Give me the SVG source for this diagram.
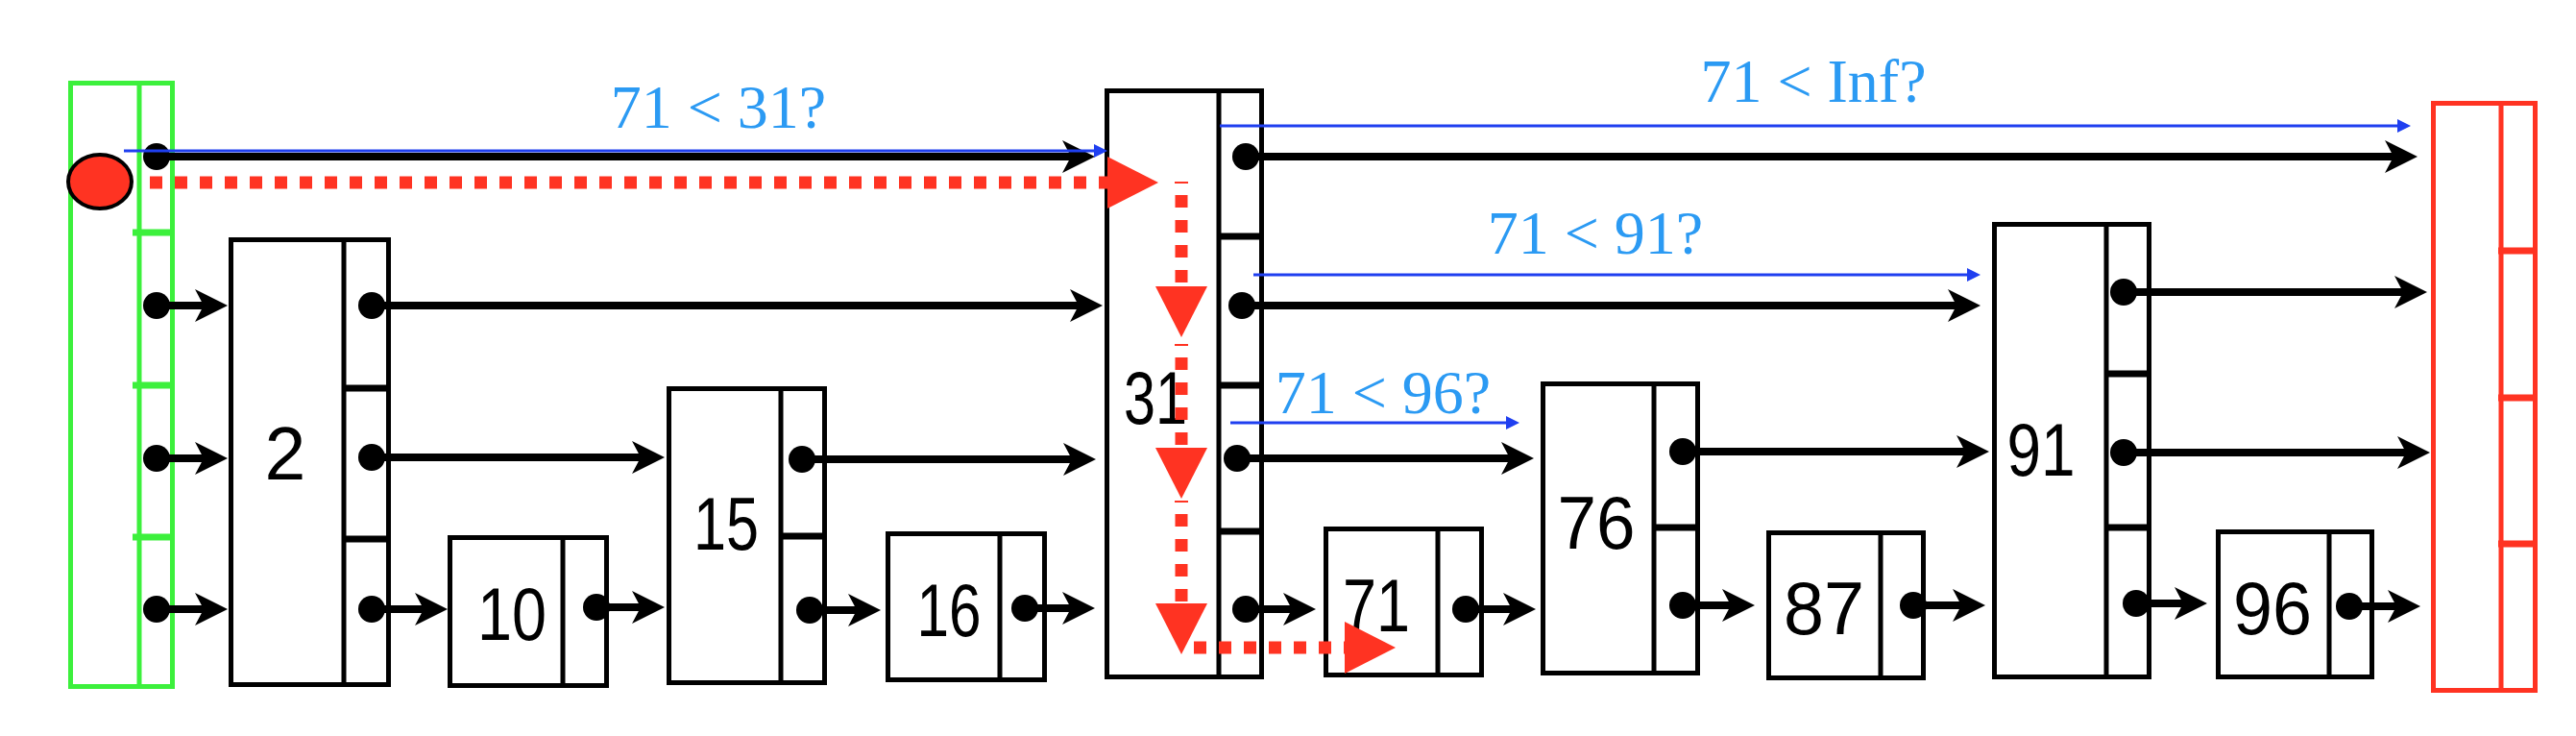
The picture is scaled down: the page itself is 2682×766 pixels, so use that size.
<svg xmlns="http://www.w3.org/2000/svg" width="2682" height="766" viewBox="0 0 2682 766">
<defs>
<style>
.bg{fill:#fff}
.node rect{fill:#fff;stroke:#000;stroke-width:5}
.node line{stroke:#000;stroke-width:5}
.node line.h{stroke-width:7}
.num{font-family:"Liberation Sans",Arial,sans-serif;font-size:77px;fill:#000;text-anchor:middle}
.lbl{font-family:"Liberation Serif","Times New Roman",serif;font-size:64px;fill:#2b9af3;text-anchor:middle}
.head rect{fill:#fff;stroke:#3cf03c;stroke-width:5}
.head line{stroke:#3cf03c;stroke-width:5}
.head line.h{stroke-width:7}
.tail rect{fill:#fff;stroke:#ff3322;stroke-width:5}
.tail line{stroke:#ff3322;stroke-width:5}
.tail line.h{stroke-width:7}
.ptr{stroke:#000;stroke-width:8;fill:none;marker-start:url(#dot);marker-end:url(#ah)}
.cmp{stroke:#1f3ff0;stroke-width:3;fill:none;marker-end:url(#bh)}
.walk{stroke:#ff3322;stroke-width:13;stroke-dasharray:13 13;stroke-dashoffset:13;fill:none;marker-end:url(#rh)}
.tick{stroke:#ff3322;stroke-width:2}
</style>
<marker id="ah" markerUnits="userSpaceOnUse" markerWidth="70" markerHeight="70" viewBox="-35 -35 70 70" refX="0" refY="0" orient="auto" overflow="visible">
<path d="M22,0 L-12,-17 L-3,0 L-12,17 Z" fill="#000"/>
</marker>
<marker id="dot" markerUnits="userSpaceOnUse" markerWidth="40" markerHeight="40" viewBox="-20 -20 40 40" refX="0" refY="0" overflow="visible">
<circle cx="0" cy="0" r="14" fill="#000"/>
</marker>
<marker id="bh" markerUnits="userSpaceOnUse" markerWidth="30" markerHeight="30" viewBox="-15 -15 30 30" refX="0" refY="0" orient="auto" overflow="visible">
<path d="M0,-7 L14,0 L0,7 Z" fill="#1f3ff0"/>
</marker>
<marker id="rh" markerUnits="userSpaceOnUse" markerWidth="120" markerHeight="120" viewBox="-60 -60 120 120" refX="0" refY="0" orient="auto" overflow="visible">
<path d="M0,-27 L53,0 L0,27 Z" fill="#ff3322"/>
</marker>
</defs>
<rect class="bg" x="0" y="0" width="2682" height="766"/>

<g id="head" class="head">
<rect x="73.5" y="86.5" width="106" height="628"/>
<line x1="145" y1="86.5" x2="145" y2="714.5"/>
<line class="h" x1="138" y1="242" x2="182" y2="242"/>
<line class="h" x1="138" y1="401" x2="182" y2="401"/>
<line class="h" x1="138" y1="559" x2="182" y2="559"/>
</g>

<g id="node-2" class="node">
<rect x="240.5" y="249.5" width="164" height="463"/>
<line x1="358" y1="249.5" x2="358" y2="712.5"/>
<line class="h" x1="356" y1="404" x2="407" y2="404"/>
<line class="h" x1="356" y1="561" x2="407" y2="561"/>
<text class="num" x="297" y="499">2</text>
</g>

<g id="node-10" class="node">
<rect x="468.5" y="559.5" width="163" height="154"/>
<line x1="586" y1="559.5" x2="586" y2="713.5"/>
<text class="num" x="533" y="666" textLength="72" lengthAdjust="spacingAndGlyphs">10</text>
</g>

<g id="node-15" class="node">
<rect x="696.5" y="404.5" width="162" height="306"/>
<line x1="813" y1="404.5" x2="813" y2="710.5"/>
<line class="h" x1="811" y1="558" x2="861" y2="558"/>
<text class="num" x="756" y="572" textLength="68" lengthAdjust="spacingAndGlyphs">15</text>
</g>

<g id="node-16" class="node">
<rect x="924.5" y="555.5" width="163" height="152"/>
<line x1="1041" y1="555.5" x2="1041" y2="707.5"/>
<text class="num" x="988" y="662" textLength="67" lengthAdjust="spacingAndGlyphs">16</text>
</g>

<g id="node-31" class="node">
<rect x="1152.5" y="94.5" width="161" height="610"/>
<line x1="1269" y1="94.5" x2="1269" y2="704.5"/>
<line class="h" x1="1267" y1="246" x2="1316" y2="246"/>
<line class="h" x1="1267" y1="401" x2="1316" y2="401"/>
<line class="h" x1="1267" y1="553" x2="1316" y2="553"/>
<text class="num" x="1203" y="441" textLength="66" lengthAdjust="spacingAndGlyphs">31</text>
</g>

<g id="node-71" class="node">
<rect x="1380.5" y="550.5" width="162" height="152"/>
<line x1="1497" y1="550.5" x2="1497" y2="702.5"/>
<text class="num" x="1433" y="657" textLength="70" lengthAdjust="spacingAndGlyphs">71</text>
</g>

<g id="node-76" class="node">
<rect x="1606.5" y="399.5" width="161" height="301"/>
<line x1="1722" y1="399.5" x2="1722" y2="700.5"/>
<line class="h" x1="1720" y1="549" x2="1770" y2="549"/>
<text class="num" x="1662" y="571" textLength="81" lengthAdjust="spacingAndGlyphs">76</text>
</g>

<g id="node-87" class="node">
<rect x="1841.5" y="554.5" width="161" height="151"/>
<line x1="1958" y1="554.5" x2="1958" y2="705.5"/>
<text class="num" x="1899" y="660" textLength="84" lengthAdjust="spacingAndGlyphs">87</text>
</g>

<g id="node-91" class="node">
<rect x="2076.5" y="233.5" width="161" height="471"/>
<line x1="2193" y1="233.5" x2="2193" y2="704.5"/>
<line class="h" x1="2191" y1="389" x2="2240" y2="389"/>
<line class="h" x1="2191" y1="549" x2="2240" y2="549"/>
<text class="num" x="2125" y="495" textLength="71" lengthAdjust="spacingAndGlyphs">91</text>
</g>

<g id="node-96" class="node">
<rect x="2309.5" y="553.5" width="160" height="151"/>
<line x1="2425" y1="553.5" x2="2425" y2="704.5"/>
<text class="num" x="2366" y="660" textLength="82" lengthAdjust="spacingAndGlyphs">96</text>
</g>

<g id="tail" class="tail">
<rect x="2533.5" y="107.5" width="106" height="611"/>
<line x1="2604" y1="107.5" x2="2604" y2="718.5"/>
<line class="h" x1="2601" y1="261" x2="2640" y2="261"/>
<line class="h" x1="2601" y1="414" x2="2640" y2="414"/>
<line class="h" x1="2601" y1="566" x2="2640" y2="566"/>
</g>

<g id="connectors">
<line class="ptr" x1="163" y1="163" x2="1118" y2="163"/>
<line class="ptr" x1="163" y1="318" x2="215" y2="318"/>
<line class="ptr" x1="163" y1="477" x2="215" y2="477"/>
<line class="ptr" x1="163" y1="634" x2="215" y2="634"/>
<line class="ptr" x1="387" y1="318" x2="1126" y2="318"/>
<line class="ptr" x1="387" y1="476" x2="670" y2="476"/>
<line class="ptr" x1="387" y1="634" x2="444" y2="634"/>
<line class="ptr" x1="621" y1="632" x2="670" y2="632"/>
<line class="ptr" x1="835" y1="478" x2="1119" y2="478"/>
<line class="ptr" x1="843" y1="635" x2="895" y2="635"/>
<line class="ptr" x1="1067" y1="633" x2="1118" y2="633"/>
<line class="ptr" x1="1297" y1="163" x2="2495" y2="163"/>
<line class="ptr" x1="1293" y1="318" x2="2040" y2="318"/>
<line class="ptr" x1="1288" y1="477" x2="1575" y2="477"/>
<line class="ptr" x1="1297" y1="634" x2="1348" y2="634"/>
<line class="ptr" x1="1526" y1="634" x2="1577" y2="634"/>
<line class="ptr" x1="1752" y1="470" x2="2049" y2="470"/>
<line class="ptr" x1="1752" y1="630" x2="1805" y2="630"/>
<line class="ptr" x1="1992" y1="630" x2="2045" y2="630"/>
<line class="ptr" x1="2211" y1="304" x2="2505" y2="304"/>
<line class="ptr" x1="2211" y1="471" x2="2508" y2="471"/>
<line class="ptr" x1="2224" y1="628" x2="2276" y2="628"/>
<line class="ptr" x1="2446" y1="631" x2="2498" y2="631"/>
</g>

<g id="comparisons">
<line class="cmp" x1="129" y1="157" x2="1139" y2="157"/>
<line class="cmp" x1="1270" y1="131" x2="2496" y2="131"/>
<line class="cmp" x1="1305" y1="286" x2="2048" y2="286"/>
<line class="cmp" x1="1281" y1="440" x2="1568" y2="440"/>
<text class="lbl" x="748" y="133">71 &lt; 31?</text>
<text class="lbl" x="1888" y="106">71 &lt; Inf?</text>
<text class="lbl" x="1661" y="264">71 &lt; 91?</text>
<text class="lbl" x="1440" y="430">71 &lt; 96?</text>
</g>

<g id="search-path">
<ellipse cx="104" cy="189" rx="33" ry="28" fill="#ff3322" stroke="#000" stroke-width="4"/>
<path class="walk" d="M143,190 H1153"/>
<path class="walk" d="M1230,190 V298"/>
<path class="walk" d="M1230,359 V466"/>
<path class="walk" d="M1230,522 V628"/>
<path class="walk" d="M1230,674 H1400"/>
<line class="tick" x1="1223" y1="190" x2="1237" y2="190"/>
<line class="tick" x1="1223" y1="359" x2="1237" y2="359"/>
<line class="tick" x1="1223" y1="522" x2="1237" y2="522"/>
</g>
</svg>
